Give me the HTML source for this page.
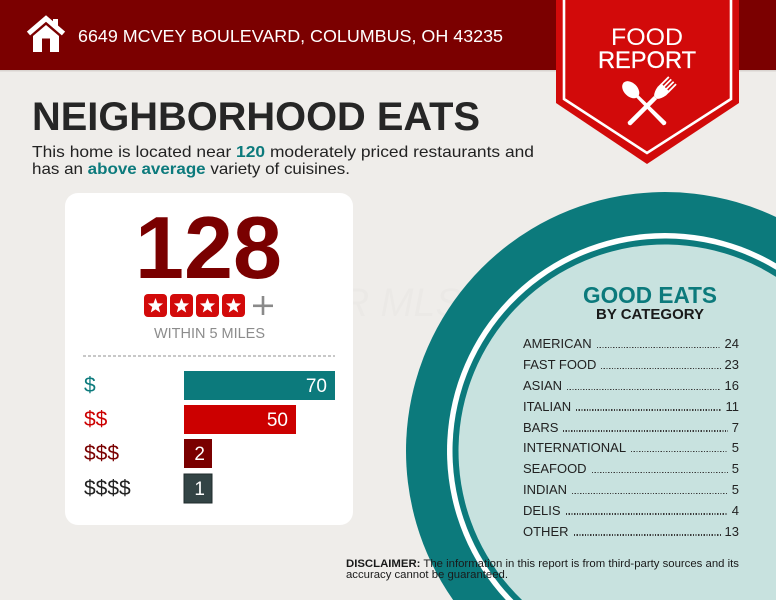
<!DOCTYPE html>
<html>
<head>
<meta charset="utf-8">
<style>
  html,body{margin:0;padding:0;width:776px;height:600px;overflow:hidden;}
  body{background:#efedea;font-family:"Liberation Sans",Arial,sans-serif;}
  #wrap{position:relative;width:776px;height:600px;overflow:hidden;}
  svg{position:absolute;left:0;top:0;display:block;}
  .cats{position:absolute;left:523px;top:334.4px;width:216px;font-size:13px;color:#222;}
  .row{display:flex;align-items:baseline;height:20.8px;line-height:20.8px;white-space:nowrap;}
  .lead{flex:1;height:1.3px;margin:0 4px 0 5px;background:repeating-linear-gradient(90deg,#3a3a3a 0 1.2px,transparent 1.2px 2.7px);}
</style>
</head>
<body>
<div id="wrap">
<svg width="776" height="600" viewBox="0 0 776 600" font-family="Liberation Sans, Arial, sans-serif">
  <rect x="0" y="0" width="776" height="600" fill="#efedea"/>
  <!-- header band -->
  <rect x="0" y="0" width="776" height="70" fill="#7b0000"/>
  <rect x="0" y="70" width="776" height="1.5" fill="#d9d4d0"/>

  <!-- house icon -->
  <polyline points="28.5,33.5 46,18.5 63.5,33.5" fill="none" stroke="#fff" stroke-width="5" stroke-linejoin="miter"/>
  <rect x="53" y="19" width="5" height="9" fill="#fff"/>
  <polygon points="33,36 46,25 59,36 59,52 33,52" fill="#fff"/>
  <rect x="42" y="38.5" width="8" height="13.5" fill="#7b0000"/>

  <!-- address -->
  <text x="78" y="42" font-size="17.7" fill="#fff" textLength="425" lengthAdjust="spacingAndGlyphs">6649 MCVEY BOULEVARD, COLUMBUS, OH 43235</text>

  <!-- watermark -->
  <text x="312" y="316" font-size="40" font-style="italic" fill="#000" fill-opacity="0.015" textLength="150" lengthAdjust="spacingAndGlyphs">CR MLS</text>

  <!-- big teal plate (clipped to frame) -->
  <path d="M776,217 A259,259 0 0 0 453.15,600 L776,600 Z" fill="#0c7a7c"/>
  <path d="M776,263.38 A218,218 0 0 0 505.87,600 L776,600 Z" fill="#ffffff"/>
  <path d="M776,269.8 A212.5,212.5 0 0 0 513.49,600 L776,600 Z" fill="#0c7a7c"/>
  <path d="M776,276.87 A206.5,206.5 0 0 0 522.03,600 L776,600 Z" fill="#c8e2df"/>

  <!-- ribbon -->
  <polygon points="556,0 739,0 739,103 647,164 556,103" fill="#d20a0a"/>
  <polyline points="564,0 564,99 647,153 731,99 731,0" fill="none" stroke="#fff" stroke-width="2.6" stroke-linejoin="miter"/>
  <text x="611" y="45" font-size="24" fill="#fff" textLength="72" lengthAdjust="spacingAndGlyphs">FOOD</text>
  <text x="598" y="68" font-size="24" fill="#fff" textLength="98" lengthAdjust="spacingAndGlyphs" stroke="#fff" stroke-width="0.3">REPORT</text>

  <!-- spoon -->
  <g transform="translate(647,106) rotate(-45)" fill="#fff">
    <ellipse cx="0" cy="-23" rx="6.8" ry="10"/>
    <path d="M-1.6,-14 L1.6,-14 L2.3,25 Q0,27.5 -2.3,25 Z"/>
  </g>
  <!-- fork -->
  <g transform="translate(647,106) rotate(45)" fill="#fff">
    <path d="M-2.2,-12 L2.2,-12 L2.3,25 Q0,27.5 -2.3,25 Z"/>
    <path d="M-6,-26 L6,-26 L6,-21 Q5,-15 2,-12 L-2,-12 Q-5,-15 -6,-21 Z"/>
    <rect x="-6" y="-36" width="1.8" height="11"/>
    <rect x="-2.6" y="-36" width="1.8" height="11"/>
    <rect x="0.8" y="-36" width="1.8" height="11"/>
    <rect x="4.2" y="-36" width="1.8" height="11"/>
  </g>

  <!-- title -->
  <text x="32" y="130" font-size="39.5" font-weight="bold" fill="#262626" textLength="448" lengthAdjust="spacingAndGlyphs">NEIGHBORHOOD EATS</text>
  <text x="32" y="157" font-size="16" fill="#222" textLength="502" lengthAdjust="spacingAndGlyphs">This home is located near <tspan font-weight="bold" fill="#0c7a7c">120</tspan> moderately priced restaurants and</text>
  <text x="32" y="174" font-size="16" fill="#222" textLength="318" lengthAdjust="spacingAndGlyphs">has an <tspan font-weight="bold" fill="#0c7a7c">above average</tspan> variety of cuisines.</text>

  <!-- card -->
  <rect x="65" y="193" width="288" height="332" rx="13" ry="13" fill="#ffffff"/>
  <text x="135" y="278" font-size="88" font-weight="bold" fill="#7a0000" textLength="147" lengthAdjust="spacingAndGlyphs">128</text>

  <!-- stars -->
  <g fill="#d20a0a">
    <rect x="144" y="294" width="23" height="23" rx="4"/>
    <rect x="170" y="294" width="23" height="23" rx="4"/>
    <rect x="196" y="294" width="23" height="23" rx="4"/>
    <rect x="222" y="294" width="23" height="23" rx="4"/>
  </g>
  <g fill="#fff">
    <polygon transform="translate(155.5,306)" points="0,-8 2,-2.75 7.61,-2.47 3.23,1.05 4.7,6.47 0,3.4 -4.7,6.47 -3.23,1.05 -7.61,-2.47 -2,-2.75"/>
    <polygon transform="translate(181.5,306)" points="0,-8 2,-2.75 7.61,-2.47 3.23,1.05 4.7,6.47 0,3.4 -4.7,6.47 -3.23,1.05 -7.61,-2.47 -2,-2.75"/>
    <polygon transform="translate(207.5,306)" points="0,-8 2,-2.75 7.61,-2.47 3.23,1.05 4.7,6.47 0,3.4 -4.7,6.47 -3.23,1.05 -7.61,-2.47 -2,-2.75"/>
    <polygon transform="translate(233.5,306)" points="0,-8 2,-2.75 7.61,-2.47 3.23,1.05 4.7,6.47 0,3.4 -4.7,6.47 -3.23,1.05 -7.61,-2.47 -2,-2.75"/>
  </g>
  <rect x="253" y="304.5" width="20" height="2.6" fill="#8a8a8a"/>
  <rect x="261.7" y="296" width="2.6" height="19" fill="#8a8a8a"/>

  <text x="154" y="338" font-size="15" fill="#8c8c8c" textLength="111" lengthAdjust="spacingAndGlyphs">WITHIN 5 MILES</text>
  <line x1="83" y1="356" x2="335" y2="356" stroke="#a8a8a8" stroke-width="1.2" stroke-dasharray="3,2"/>

  <!-- bars -->
  <rect x="184" y="371" width="151" height="29" fill="#0c7a7c"/>
  <rect x="184" y="405" width="112" height="29" fill="#cc0000"/>
  <rect x="184" y="439" width="28" height="29" fill="#7a0000"/>
  <rect x="184" y="474" width="28" height="29" fill="#334445" stroke="#1f2b2c" stroke-width="1"/>

  <g font-size="21">
    <text x="84" y="392" fill="#0c7a7c">$</text>
    <text x="84" y="426" fill="#cc0000">$$</text>
    <text x="84" y="460" fill="#7a0000">$$$</text>
    <text x="84" y="495" fill="#222">$$$$</text>
  </g>
  <g font-size="19" fill="#fff" text-anchor="end">
    <text x="327" y="392">70</text>
    <text x="288" y="426">50</text>
    <text x="205" y="460">2</text>
    <text x="205" y="495">1</text>
  </g>

  <!-- good eats -->
  <text x="583" y="303" font-size="23" font-weight="bold" fill="#0c7a7c" textLength="134" lengthAdjust="spacingAndGlyphs">GOOD EATS</text>
  <text x="596" y="319" font-size="15" font-weight="bold" fill="#1a1a1a" textLength="108" lengthAdjust="spacingAndGlyphs">BY CATEGORY</text>

  <!-- disclaimer -->
  <text x="346" y="567" font-size="11" fill="#1a1a1a" textLength="393" lengthAdjust="spacingAndGlyphs"><tspan font-weight="bold">DISCLAIMER:</tspan> The information in this report is from third-party sources and its</text>
  <text x="346" y="578" font-size="11" fill="#1a1a1a" textLength="162" lengthAdjust="spacingAndGlyphs">accuracy cannot be guaranteed.</text>
</svg>

<div class="cats">
  <div class="row"><span>AMERICAN</span><span class="lead"></span><span>24</span></div>
  <div class="row"><span>FAST FOOD</span><span class="lead"></span><span>23</span></div>
  <div class="row"><span>ASIAN</span><span class="lead"></span><span>16</span></div>
  <div class="row"><span>ITALIAN</span><span class="lead"></span><span>11</span></div>
  <div class="row"><span>BARS</span><span class="lead"></span><span>7</span></div>
  <div class="row"><span>INTERNATIONAL</span><span class="lead"></span><span>5</span></div>
  <div class="row"><span>SEAFOOD</span><span class="lead"></span><span>5</span></div>
  <div class="row"><span>INDIAN</span><span class="lead"></span><span>5</span></div>
  <div class="row"><span>DELIS</span><span class="lead"></span><span>4</span></div>
  <div class="row"><span>OTHER</span><span class="lead"></span><span>13</span></div>
</div>
</div>
</body>
</html>
